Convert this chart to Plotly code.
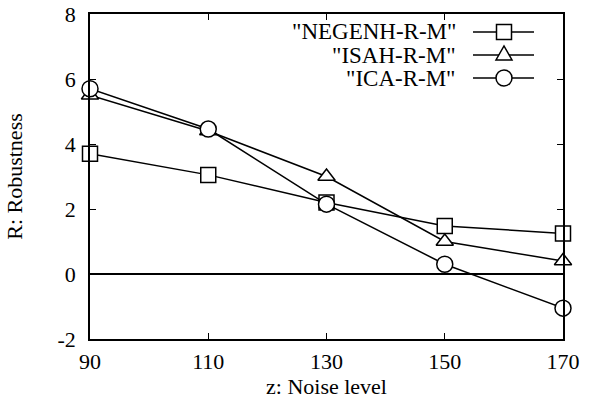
import plotly.graph_objects as go

noise_levels = [90, 110, 130, 150, 170]
negenh = [3.7, 3.05, 2.2, 1.48, 1.25]
isah = [5.5, 4.4, 3.0, 1.0, 0.4]
ica = [5.7, 4.46, 2.15, 0.3, -1.05]
series_names = ['"NEGENH-R-M"', '"ISAH-R-M"', '"ICA-R-M"']
x_ticks = [90, 110, 130, 150, 170]
y_ticks = [-2, 0, 2, 4, 6, 8]
y_tick_text = ["-2", "0", "2", "4", "6", "8"]

FONT = "Liberation Serif, Times New Roman, Times, serif"
FS = 22
W, H = 591, 412
L, R, T, B = 90, 28, 14, 73
pw, ph = W - L - R, H - T - B

symbols = ["square", "triangle-up", "circle"]
sizes = [15, 15, 16]
fig = go.Figure()
for name, ys, sym, sz in zip(series_names, [negenh, isah, ica], symbols, sizes):
    fig.add_trace(go.Scatter(
        x=noise_levels, y=ys, mode="lines+markers", name=name,
        line=dict(color="black", width=1.5),
        marker=dict(symbol=sym, size=sz, color="white",
                    line=dict(color="black", width=1.5)),
        showlegend=False, cliponaxis=False, hoverinfo="skip",
    ))

def px2paper(px, py):
    return (px - L) / pw, (H - B - py) / ph

shapes = []
annotations = []
rows_y = [32, 55, 78]
for i, (name, py) in enumerate(zip(series_names, rows_y)):
    tx, ty = px2paper(458, py)
    annotations.append(dict(x=tx, y=ty, xref="paper", yref="paper", text=name,
                            showarrow=False, xanchor="right", yanchor="middle",
                            font=dict(family=FONT, size=23, color="black")))
    x0, y0 = px2paper(473, py)
    x1, _ = px2paper(534, py)
    shapes.append(dict(type="line", xref="paper", yref="paper", x0=x0, x1=x1, y0=y0, y1=y0,
                       line=dict(color="black", width=1.5)))
    cx, cy = px2paper(504, py)
    common = dict(xref="paper", yref="paper", xsizemode="pixel", ysizemode="pixel",
                  xanchor=cx, yanchor=cy, fillcolor="white", line=dict(color="black", width=1.5))
    if i == 0:
        shapes.append(dict(type="rect", x0=-7.5, x1=7.5, y0=-7.5, y1=7.5, **common))
    elif i == 1:
        shapes.append(dict(type="path", path="M -8 -5 L 8 -5 L 0 9 Z", **common))
    else:
        shapes.append(dict(type="circle", x0=-8, x1=8, y0=-8, y1=8, **common))

axis_common = dict(showline=True, linecolor="black", linewidth=1.5, mirror="ticks",
                   ticks="inside", ticklen=6, tickwidth=1.2, tickcolor="black",
                   showgrid=False, automargin=False,
                   tickfont=dict(family=FONT, size=FS, color="black"),
                   title_font=dict(family=FONT, size=FS, color="black"))

fig.update_layout(
    width=W, height=H, margin=dict(l=L, r=R, t=T, b=B, autoexpand=False),
    paper_bgcolor="white", plot_bgcolor="white",
    font=dict(family=FONT, color="black"),
    xaxis=dict(range=[90, 170], tickvals=x_ticks, title=dict(text="z: Noise level", standoff=4),
               ticklabelstandoff=2, zeroline=False, **axis_common),
    yaxis=dict(range=[-2, 8], tickvals=y_ticks, ticktext=y_tick_text,
               title=dict(text="R: Robustness", standoff=29), ticklabelstandoff=8,
               zeroline=True, zerolinecolor="black", zerolinewidth=1.5, **axis_common),
    shapes=shapes, annotations=annotations, showlegend=False,
)
fig.write_html("out.html", post_script="document.body.style.margin='0';",
               config={"displayModeBar": False})
